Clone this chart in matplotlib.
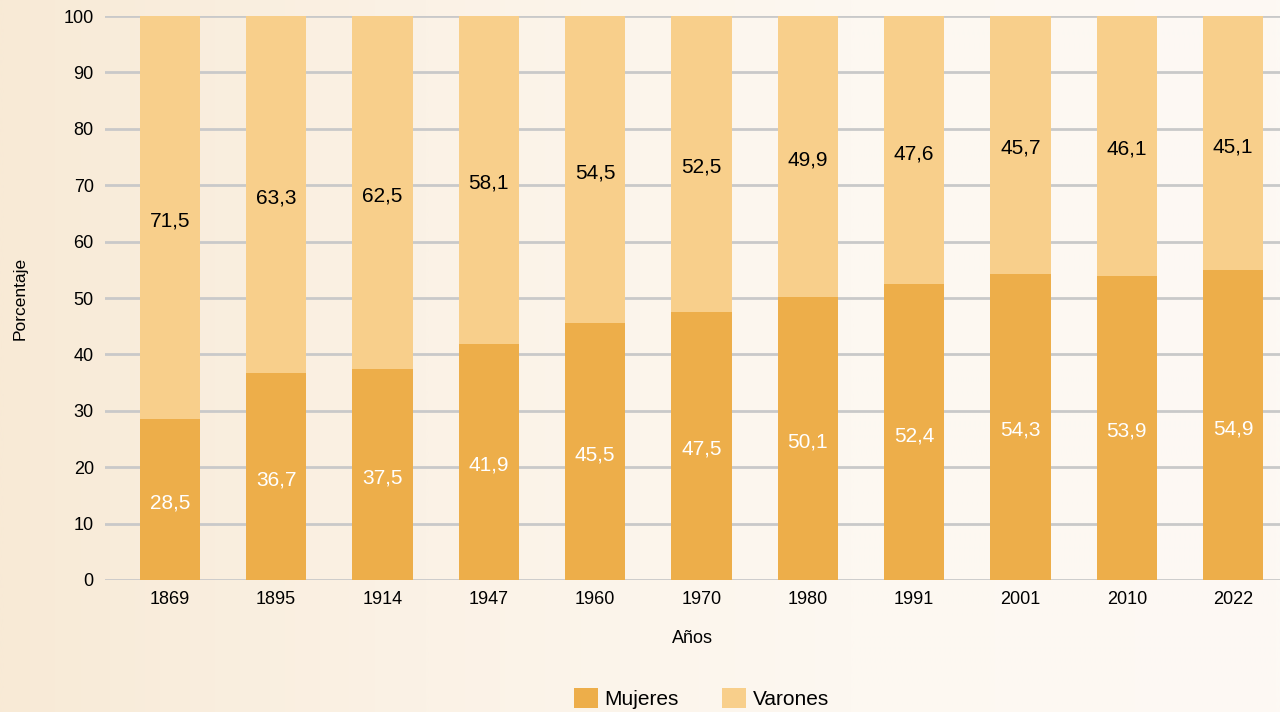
import matplotlib.pyplot as plt
import numpy as np
from matplotlib.colors import LinearSegmentedColormap

plt.rcParams['font.family'] = ['Liberation Sans', 'DejaVu Sans']

years = ['1869', '1895', '1914', '1947', '1960', '1970', '1980', '1991', '2001', '2010', '2022']
mujeres = [28.5, 36.7, 37.5, 41.9, 45.5, 47.5, 50.1, 52.4, 54.3, 53.9, 54.9]
varones = [71.5, 63.3, 62.5, 58.1, 54.5, 52.5, 49.9, 47.6, 45.7, 46.1, 45.1]

c_muj = '#edae4a'
c_var = '#f8cf8b'
bg = '#fbf4e9'

fig = plt.figure(figsize=(12.8, 7.12), dpi=100, facecolor=bg)

# soft beige-to-white background, darker on the left
bg_ax = fig.add_axes([0, 0, 1, 1], zorder=-10)
grad = np.linspace(0, 1, 1024).reshape(1, -1)
cmap = LinearSegmentedColormap.from_list('bgc', ['#f8ead6', '#fbf2e6', '#fdf8f1', '#fdf9f4'])
bg_ax.imshow(grad, aspect='auto', cmap=cmap, extent=[0, 1, 0, 1], interpolation='bilinear')
bg_ax.axis('off')

ax = fig.add_axes([0.082, 0.1854, 0.918, 0.7921])
ax.set_facecolor('none')

x = np.arange(len(years))
w = 0.565
b1 = ax.bar(x, mujeres, w, color=c_muj, label='Mujeres', zorder=3)
b2 = ax.bar(x, varones, w, bottom=mujeres, color=c_var, label='Varones', zorder=3)

for i in range(len(years)):
    ax.text(x[i], mujeres[i] / 2 - 0.6, f'{mujeres[i]:.1f}'.replace('.', ','),
            ha='center', va='center', color='white', fontsize=15, zorder=4)
    ax.text(x[i], mujeres[i] + varones[i] / 2 - 0.6, f'{varones[i]:.1f}'.replace('.', ','),
            ha='center', va='center', color='black', fontsize=15, zorder=4)

ax.set_xlim(-0.61, len(years) - 0.56)
ax.set_ylim(0, 100)
ax.set_yticks(range(0, 101, 10))
ax.set_xticks(x)
ax.set_xticklabels(years)
ax.yaxis.grid(True, color='#c9c9c9', linewidth=2, zorder=0)
ax.tick_params(length=0, labelsize=13, pad=8)
for s in ax.spines.values():
    s.set_visible(False)

ax.set_xlabel('Años', fontsize=13, labelpad=16)
ax.set_ylabel('Porcentaje', fontsize=12.5, labelpad=26)

fig.legend(handles=[b1, b2], loc='lower center', bbox_to_anchor=(0.548, -0.022), ncol=2,
           frameon=False, fontsize=15, handlelength=1.15, handleheight=1.15,
           handletextpad=0.3, columnspacing=2.1)

plt.savefig('out.png', dpi=100, facecolor=bg)
